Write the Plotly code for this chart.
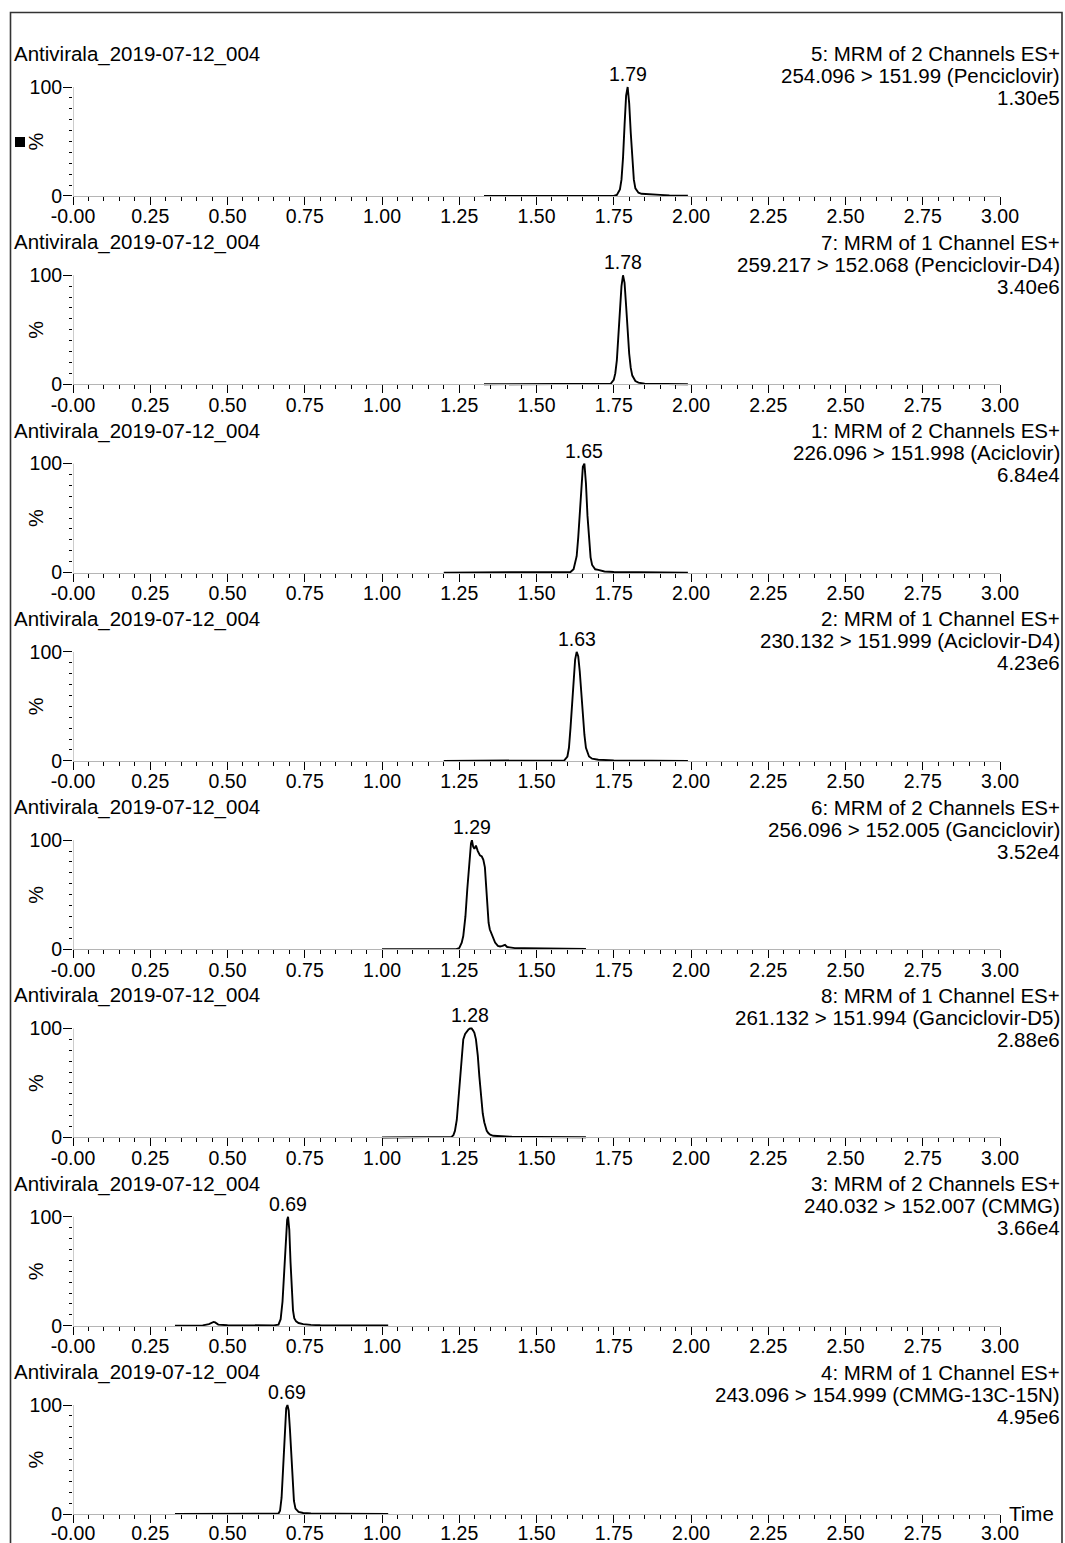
import plotly.graph_objects as go

# ---------------- data ----------------
sample_name = "Antivirala_2019-07-12_004"

header_line1 = [
    "5: MRM of 2 Channels ES+", "7: MRM of 1 Channel ES+", "1: MRM of 2 Channels ES+",
    "2: MRM of 1 Channel ES+", "6: MRM of 2 Channels ES+", "8: MRM of 1 Channel ES+",
    "3: MRM of 2 Channels ES+", "4: MRM of 1 Channel ES+",
]
header_line2 = [
    "254.096 > 151.99 (Penciclovir)", "259.217 > 152.068 (Penciclovir-D4)",
    "226.096 > 151.998 (Aciclovir)", "230.132 > 151.999 (Aciclovir-D4)",
    "256.096 > 152.005 (Ganciclovir)", "261.132 > 151.994 (Ganciclovir-D5)",
    "240.032 > 152.007 (CMMG)", "243.096 > 154.999 (CMMG-13C-15N)",
]
max_intensity = ["1.30e5", "3.40e6", "6.84e4", "4.23e6", "3.52e4", "2.88e6", "3.66e4", "4.95e6"]
peak_labels = ["1.79", "1.78", "1.65", "1.63", "1.29", "1.28", "0.69", "0.69"]

x_tick_vals = [0, 0.25, 0.5, 0.75, 1.0, 1.25, 1.5, 1.75, 2.0, 2.25, 2.5, 2.75, 3.0]
x_tick_text = ["-0.00", "0.25", "0.50", "0.75", "1.00", "1.25", "1.50", "1.75",
               "2.00", "2.25", "2.50", "2.75", "3.00"]
y_tick_vals = [0, 100]
y_tick_text = ["0", "100"]

penciclovir_t = [1.33, 1.40, 1.50, 1.60, 1.70, 1.75, 1.76, 1.77, 1.775, 1.78, 1.785, 1.79, 1.795,
                 1.80, 1.805, 1.81, 1.815, 1.82, 1.83, 1.84, 1.86, 1.88, 1.90, 1.93, 1.96, 1.99]
penciclovir_y = [0, 0, 0, 0, 0, 0, 1, 6, 15, 35, 65, 92, 100,
                 85, 58, 32, 15, 7, 3, 2, 1.5, 1, 1, 0.5, 0.5, 0.3]

penciclovir_d4_t = [1.33, 1.45, 1.55, 1.65, 1.72, 1.74, 1.75, 1.755, 1.76, 1.765, 1.77, 1.775,
                    1.78, 1.785, 1.79, 1.795, 1.80, 1.805, 1.81, 1.82, 1.83, 1.85, 1.90, 1.99]
penciclovir_d4_y = [0, 0, 0, 0, 0, 0.5, 4, 10, 22, 42, 68, 90,
                    100, 93, 72, 48, 28, 15, 8, 3, 1.5, 0.5, 0.2, 0]

aciclovir_t = [1.20, 1.30, 1.40, 1.50, 1.58, 1.61, 1.62, 1.63, 1.635, 1.64, 1.645, 1.65, 1.655,
               1.66, 1.665, 1.67, 1.675, 1.68, 1.69, 1.70, 1.71, 1.72, 1.75, 1.80, 1.90, 1.99]
aciclovir_y = [0, 0, 0, 0, 0, 0.5, 3, 15, 32, 55, 80, 97, 100,
               82, 52, 28, 14, 7, 3, 2.5, 2, 1, 0.5, 0.3, 0.2, 0]

aciclovir_d4_t = [1.20, 1.30, 1.40, 1.50, 1.57, 1.59, 1.60, 1.605, 1.61, 1.615, 1.62, 1.625, 1.63,
                  1.635, 1.64, 1.645, 1.65, 1.655, 1.66, 1.67, 1.68, 1.70, 1.75, 1.85, 1.99]
aciclovir_d4_y = [0, 0, 0, 0, 0, 0.5, 4, 12, 30, 52, 76, 93, 100,
                  96, 82, 62, 42, 24, 12, 4, 2, 1, 0.5, 0.2, 0]

ganciclovir_t = [1.00, 1.10, 1.20, 1.24, 1.25, 1.258, 1.263, 1.270, 1.276, 1.283, 1.288, 1.291,
                 1.295, 1.299, 1.304, 1.310, 1.317, 1.323, 1.328, 1.333, 1.337, 1.341, 1.345,
                 1.349, 1.355, 1.360, 1.366, 1.375, 1.382, 1.390, 1.398, 1.405, 1.414, 1.43,
                 1.46, 1.49, 1.55, 1.60, 1.66]
ganciclovir_y = [0, 0, 0, 0, 1, 6, 12, 30, 55, 85, 97, 100,
                 94, 92, 95, 90, 86, 85, 82, 75, 55, 35, 24,
                 18, 14, 9, 6, 3, 2.5, 3, 4, 2, 1.5, 1,
                 1, 0.8, 0.5, 0.5, 0.3]

ganciclovir_d5_t = [1.00, 1.10, 1.20, 1.225, 1.231, 1.236, 1.242, 1.247, 1.253, 1.258, 1.263,
                    1.269, 1.274, 1.280, 1.285, 1.290, 1.295, 1.299, 1.304, 1.310, 1.315, 1.320,
                    1.326, 1.331, 1.339, 1.344, 1.350, 1.360, 1.38, 1.42, 1.50, 1.58, 1.66]
ganciclovir_d5_y = [0, 0, 0, 0.5, 2, 6, 16, 34, 56, 76, 90,
                    95, 97, 99, 100, 100, 98, 96, 90, 75, 56, 38,
                    22, 14, 6, 4, 2.5, 1.5, 1, 0.6, 0.4, 0.3, 0.2]

cmmg_t = [0.33, 0.38, 0.42, 0.44, 0.45, 0.455, 0.46, 0.47, 0.50, 0.55, 0.60, 0.65, 0.665, 0.672,
          0.678, 0.684, 0.689, 0.693, 0.696, 0.700, 0.704, 0.708, 0.712, 0.716, 0.722, 0.73,
          0.745, 0.77, 0.80, 0.90, 1.02]
cmmg_y = [0, 0, 0.3, 1.5, 3, 3.5, 3, 1, 0.5, 0.3, 0.3, 0.3, 1, 6,
          22, 50, 80, 97, 100, 88, 58, 30, 14, 7, 4, 2.5,
          1.5, 0.8, 0.5, 0.3, 0.2]

cmmg_is_t = [0.33, 0.40, 0.50, 0.60, 0.65, 0.665, 0.670, 0.675, 0.680, 0.685, 0.690, 0.694,
             0.698, 0.702, 0.706, 0.710, 0.715, 0.72, 0.73, 0.745, 0.77, 0.85, 0.95, 1.02]
cmmg_is_y = [0, 0, 0, 0, 0, 0.5, 3, 15, 42, 78, 97, 100,
             95, 78, 55, 30, 12, 5, 2, 1, 0.5, 0.2, 0.1, 0]

series_t = [penciclovir_t, penciclovir_d4_t, aciclovir_t, aciclovir_d4_t,
            ganciclovir_t, ganciclovir_d5_t, cmmg_t, cmmg_is_t]
series_y = [penciclovir_y, penciclovir_d4_y, aciclovir_y, aciclovir_d4_y,
            ganciclovir_y, ganciclovir_d5_y, cmmg_y, cmmg_is_y]

# ---------------- layout geometry (window pixels) ----------------
W, H = 1065, 1543
OFF = 0                         # body margin is removed by the post script below
X_LEFT, X_RIGHT = 73, 1000      # window pixel of 0.00 and 3.00
ZERO0, STEP, HUNDRED = 196, 188.29, 109
FONT = "Liberation Sans, Arial, Helvetica, sans-serif"
TICKFONT = dict(family=FONT, size=19.5, color="black")
HEADFONT = dict(family=FONT, size=20.5, color="black")


def px(p):
    return (p - OFF) / W


def py(p):
    return 1 - (p - OFF) / H


fig = go.Figure()
layout = dict(
    width=W, height=H, margin=dict(l=0, r=0, t=0, b=0, pad=0, autoexpand=False),
    paper_bgcolor="white", plot_bgcolor="white", showlegend=False,
    font=dict(family=FONT, size=20, color="black"),
)
annotations = []
shapes = []

for i in range(8):
    ax = "" if i == 0 else str(i + 1)
    zero_pix = ZERO0 + i * STEP
    top_pix = zero_pix - HUNDRED
    ylo, yhi = -1.5, 102.5
    pad_bot = -ylo / 100 * HUNDRED
    pad_top = (yhi - 100) / 100 * HUNDRED

    fig.add_trace(go.Scatter(
        x=series_t[i], y=series_y[i], mode="lines",
        line=dict(color="black", width=1.9), xaxis="x" + ax, yaxis="y" + ax,
        hoverinfo="skip",
    ))

    layout["xaxis" + ax] = dict(
        domain=[px(X_LEFT), px(X_RIGHT)], range=[0, 3], anchor="free",
        position=py(zero_pix), automargin=False,
        tickmode="array", tickvals=x_tick_vals, ticktext=x_tick_text,
        ticks="outside", ticklen=8, tickwidth=1, tickcolor="black",
        ticklabelstandoff=-5 if i < 7 else -6,
        showline=True, linecolor="#b5b5b5", linewidth=1,
        showgrid=False, zeroline=False, tickfont=TICKFONT,
        minor=dict(tickmode="linear", tick0=0, dtick=0.05, ticks="outside",
                   ticklen=4, tickwidth=1, tickcolor="black", showgrid=False),
        fixedrange=True,
    )
    layout["yaxis" + ax] = dict(
        domain=[py(zero_pix + pad_bot), py(top_pix - pad_top)], range=[ylo, yhi],
        anchor="x" + ax, automargin=False,
        tickmode="array", tickvals=y_tick_vals, ticktext=y_tick_text,
        ticks="outside", ticklen=9, tickwidth=1, tickcolor="black",
        ticklabelstandoff=-3,
        showline=False, showgrid=False, zeroline=False, tickfont=TICKFONT,
        minor=dict(tickmode="linear", tick0=0, dtick=10, ticks="outside",
                   ticklen=3, tickwidth=1, tickcolor="black", showgrid=False),
        fixedrange=True,
    )
    # thin vertical y-axis line from 0 to 100
    shapes.append(dict(type="line", xref="x" + ax, yref="y" + ax, x0=0, x1=0, y0=0, y1=100,
                       line=dict(color="#9a9a9a", width=1)))

    # headers
    annotations.append(dict(text=sample_name, xref="paper", yref="paper", x=px(12),
                            y=py(54 + i * STEP), xanchor="left", yanchor="middle",
                            showarrow=False, font=HEADFONT))
    for k, txt in enumerate([header_line1[i], header_line2[i], max_intensity[i]]):
        annotations.append(dict(text=txt, xref="paper", yref="paper", x=px(1062),
                                y=py(54 + 22 * k + i * STEP), xanchor="right",
                                yanchor="middle", showarrow=False, font=HEADFONT))
    # peak label
    yi = series_y[i]
    imax = yi.index(max(yi))
    annotations.append(dict(text=peak_labels[i], xref="x" + ax, yref="y" + ax,
                            x=series_t[i][imax], y=100, xanchor="center", yanchor="bottom",
                            showarrow=False, yshift=0, font=dict(size=19.5)))
    # rotated % label
    annotations.append(dict(text="%", xref="paper", yref="y" + ax, x=px(36), y=50,
                            xanchor="center", yanchor="middle", textangle=-90,
                            showarrow=False, font=dict(size=20)))

# "Time" label
annotations.append(dict(text="Time", xref="paper", yref="paper", x=px(1007),
                        y=py(ZERO0 + 7 * STEP - 1), xanchor="left", yanchor="middle",
                        showarrow=False, font=HEADFONT))
# selection marker and outer frame
shapes.append(dict(type="rect", xref="paper", yref="paper", x0=px(15), x1=px(25),
                   y0=py(147), y1=py(137), fillcolor="black", line=dict(width=0)))
shapes.append(dict(type="rect", xref="paper", yref="paper", x0=px(10.5), x1=px(1062),
                   y0=py(1560), y1=py(12.5), line=dict(color="#333333", width=1.6)))

layout["annotations"] = annotations
layout["shapes"] = shapes
fig.update_layout(**layout)
fig.write_html(
    "out.html",
    config={"displayModeBar": False, "staticPlot": True},
    post_script="document.body.style.margin='0';document.body.style.overflow='hidden';",
)
